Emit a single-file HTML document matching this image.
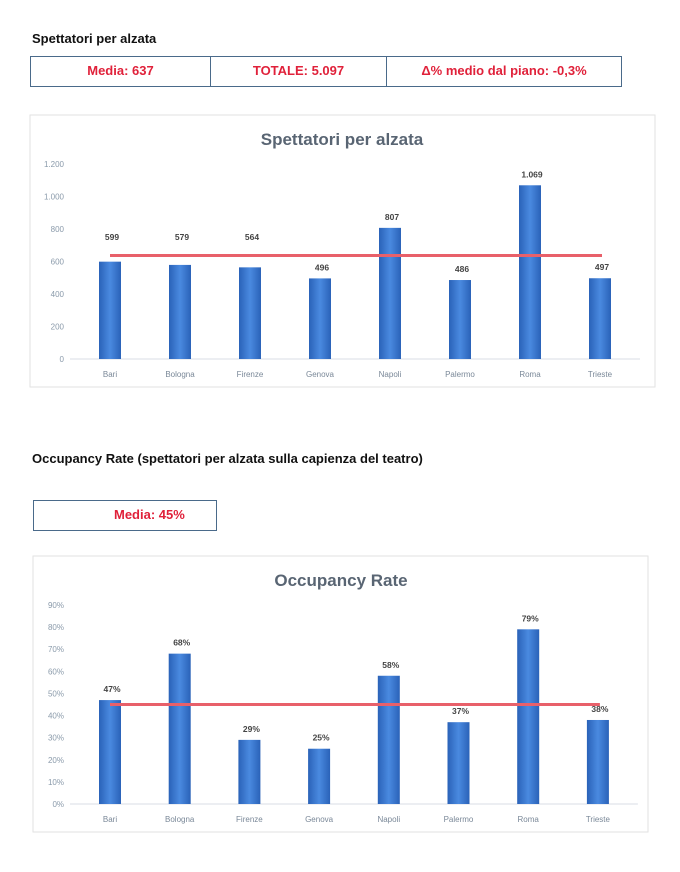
<!DOCTYPE html>
<html><head><meta charset="utf-8"><style>
body{margin:0;width:680px;height:872px;background:#fff;font-family:"Liberation Sans",sans-serif;position:relative;overflow:hidden}
.t{position:absolute;font-weight:bold;font-size:13px;color:#111}
.box{position:absolute;border:1px solid #4a6a8a;display:flex}
.box div{flex:1;color:#e0213a;font-weight:bold;font-size:13px;text-align:center;line-height:28px;border-right:1px solid #4a6a8a}
.box div:last-child{border-right:none}
svg{position:absolute;left:0;top:0}
</style></head><body>
<div class="t" style="left:32px;top:31px">Spettatori per alzata</div>
<div class="box" style="left:30px;top:56px;width:590px;height:29px">
<div style="flex:0 0 179px">Media: 637</div>
<div style="flex:0 0 175px">TOTALE: 5.097</div>
<div>Δ% medio dal piano: -0,3%</div>
</div>
<div class="t" style="left:32px;top:451px">Occupancy Rate (spettatori per alzata sulla capienza del teatro)</div>
<div class="box" style="left:33px;top:500px;width:182px;height:29px">
<div style="text-align:left;padding-left:80px">Media: 45%</div>
</div>
<svg id="s" width="680" height="872"></svg>
<script>
const cities=["Bari","Bologna","Firenze","Genova","Napoli","Palermo","Roma","Trieste"];
const spett=[599,579,564,496,807,486,1069,497];
const spettLabels=["599","579","564","496","807","486","1.069","497"];
const spettTicks=[0,200,400,600,800,1000,1200];
const spettTickLabels=["0","200","400","600","800","1.000","1.200"];
const spettMean=637;
const occ=[47,68,29,25,58,37,79,38];
const occTicks=[0,10,20,30,40,50,60,70,80,90];
const occMean=45;
const NS="http://www.w3.org/2000/svg",svg=document.getElementById('s');
svg.innerHTML='<defs><linearGradient id="g" x1="0" x2="1"><stop offset="0" stop-color="#2a62b8"/><stop offset="0.5" stop-color="#4a8ae0"/><stop offset="1" stop-color="#2a62b8"/></linearGradient></defs>';
function el(t,a,txt){const e=document.createElementNS(NS,t);for(const k in a)e.setAttribute(k,a[k]);if(txt!==undefined)e.textContent=txt;svg.appendChild(e);return e;}
function chart(o){
 const y=v=>o.y0-(v-o.min)/(o.max-o.min)*(o.y0-o.ytop);
 const x=i=>o.x0+i*o.dx;
 let f=el('rect',{x:o.fx,y:o.fy,width:o.fw,height:o.fh,fill:'#fff',stroke:'#e2e2e2'});
 
 let t=el('text',{x:o.tx,y:o.fy+30,'text-anchor':'middle','font-size':17,'font-weight':'bold',fill:'#596573'},o.title);
 
 o.ticks.forEach((v,i)=>{let e=el('text',{x:o.tickX,y:y(v)+3,'text-anchor':'end','font-size':8,fill:'#8a9aaa'},o.tickLabels[i]);
  });
 let ax=el('line',{x1:o.x0-40,x2:x(7)+40,y1:o.y0,y2:o.y0,stroke:'#d8dde6'});
 
 o.vals.forEach((v,i)=>{
  let b=el('rect',{x:x(i)-11,y:y(v),width:22,height:o.y0-y(v),fill:'url(#g)'});
  
  let c=el('text',{x:x(i),y:o.y0+18,'text-anchor':'middle','font-size':8,fill:'#7a8898'},cities[i]);
  
 });
 let m=el('line',{x1:x(0),x2:x(7)+2,y1:y(o.mean),y2:y(o.mean),stroke:'#e8606a','stroke-width':3});
 
 o.vals.forEach((v,i)=>{
  let ly=o.lblY?o.lblY(i,y(v)):y(v)-8;
  let l=el('text',{x:x(i)+2,y:ly,'text-anchor':'middle','font-size':8.5,'font-weight':'bold',fill:'#444'},o.labels[i]);
  
 });
}
chart({name:'spettatori-chart',title:'Spettatori per alzata',tx:342,tickX:64,fx:30,fy:115,fw:625,fh:272,y0:359,ytop:164,min:0,max:1200,x0:110,dx:70,
 vals:spett,labels:spettLabels,ticks:spettTicks,tickLabels:spettTickLabels,mean:spettMean,
 lblY:(i,yy)=>i<3?240:yy-8});
chart({name:'occupancy-chart',title:'Occupancy Rate',tx:341,tickX:64,fx:33,fy:556,fw:615,fh:276,y0:804,ytop:605,min:0,max:90,x0:110,dx:69.7,
 vals:occ,labels:occ.map(v=>v+'%'),ticks:occTicks,tickLabels:occTicks.map(v=>v+'%'),mean:occMean});
</script>
</body></html>
